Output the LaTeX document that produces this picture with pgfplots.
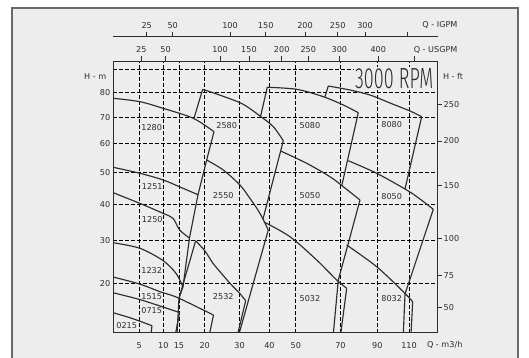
\documentclass[border=0pt]{standalone}
\usepackage{fontspec}
\setmainfont{DejaVu Sans}
\newfontfamily\rpmfont{Fira Sans}[UprightFont={* Light}]
\usepackage{pgfplots}
\pgfplotsset{compat=1.18}
\definecolor{bgc}{RGB}{236,237,236}
\definecolor{framec}{RGB}{105,105,105}
\definecolor{txt}{RGB}{45,45,45}
\newcommand{\lblfont}{\fontsize{8.1}{9.5}\selectfont}
\pgfplotsset{
  qx/.style={
    x coord trafo/.code={\pgfmathparse{ln(##1+37.5)}},
    x coord inv trafo/.code={\pgfmathparse{exp(##1)-37.5}},
    xmin=0.21, xmax=130.87,
    width=324.4pt, scale only axis,
  },
  hy/.style={
    y coord trafo/.code={\pgfmathparse{sqrt(##1)}},
    y coord inv trafo/.code={\pgfmathparse{##1*##1}},
    ymin=11.02, ymax=93.71,
    height=271.7pt,
  },
  curve/.style={txt, line width=1.15pt, mark=none, smooth, tension=0.5},
  edge/.style={txt, line width=1.15pt, mark=none, sharp plot},
}
\begin{document}
\begin{tikzpicture}
\fill[white] (0,0) rectangle (529pt,358pt);
\path[use as bounding box] (0,0) rectangle (529pt,358pt);
\filldraw[fill=bgc, draw=framec, line width=2pt] (12pt,-10pt) rectangle (518pt,350pt);

% main axis
\begin{axis}[qx, hy, at={(113.3pt,25.3pt)}, anchor=south west,
  axis line style={txt, line width=0.9pt},
  xtick={5,10,13.55,20,30,40,50,70,90,110},
  xticklabels={5,10,15,20,30,40,50,70,90,110},
  ytick={20,30,40,50,60,70,80,90},
  yticklabels={20,30,40,50,60,70,80,{}},
  major tick length=0pt,
  grid=major,
  major grid style={black, line width=0.8pt, dash pattern=on 3.5pt off 2.5pt},
  tick label style={font=\lblfont, text=txt},
  xticklabel style={yshift=-6.5pt},
  yticklabel style={xshift=0.5pt},
  clip=true,
]
% family 02 / 07 / 15
\addplot[curve] coordinates {(0.2,14.34) (3.55,13.37) (7.58,12.13)};
\addplot[edge] coordinates {(7.58,12.13) (7.37,10.8)};
\addplot[curve] coordinates {(0.2,18.11) (5.09,16.78) (9.27,15.56) (13.67,14.38)};
\addplot[edge] coordinates {(13.67,14.38) (12.74,10.8)};
\addplot[curve] coordinates {(0.2,21.37) (5.09,19.88) (9.27,18.31) (12.92,17.26) (19.61,14.83) (22.36,13.94)};
\addplot[edge] coordinates {(22.36,13.94) (21.27,10.8)};
% family 12
\addplot[curve] coordinates {(0.2,29.44) (5.15,28.04) (9.92,25.09) (12.85,22.18) (14.51,19.32)};
\addplot[edge] coordinates {(14.51,19.32) (13.55,17.01) (13.09,10.8)};
\addplot[curve] coordinates {(0.2,43.52) (5.09,40.31) (9.92,37.39) (12.16,35.97) (13.72,32.76) (16.09,30.65)};
\addplot[curve] coordinates {(0.2,51.72) (5.15,49.72) (9.99,47.53) (13.79,45.30) (18.23,42.90)};
\addplot[curve] coordinates {(0.2,77.57) (5.15,76.17) (9.92,73.50) (17.04,69.54) (22.50,64.40)};
\addplot[edge] coordinates {(22.50,64.40) (20.51,54.21) (18.23,42.90) (16.09,30.65) (14.51,19.32)};
% family 25
\addplot[edge] coordinates {(17.64,29.95) (13.55,17.01)};
\addplot[curve] coordinates {(17.64,29.95) (20.06,27.37) (22.22,24.44) (24.75,22.03) (27.10,20.03) (30.05,17.99) (31.95,16.55)};
\addplot[edge] coordinates {(31.95,16.55) (29.43,10.8)};
\addplot[edge] coordinates {(17.29,69.93) (19.45,81.32)};
\addplot[curve] coordinates {(19.45,81.32) (30.14,75.76) (36.68,70.44) (41.38,66.30) (45.10,61.06)};
\addplot[edge] coordinates {(45.10,61.06) (37.72,35.77)};
\addplot[curve] coordinates {(20.51,54.21) (25.13,50.81) (30.14,45.93) (33.01,42.20) (35.33,39.21) (37.37,36.34) (39.58,32.76)};
\addplot[edge] coordinates {(39.58,32.76) (29.83,10.8)};
% family 50
\addplot[edge] coordinates {(36.92,70.44) (39.22,82.17)};
\addplot[curve] coordinates {(39.22,82.17) (50.36,81.32) (61.83,78.23) (71.43,74.83) (79.24,71.74)};
\addplot[edge] coordinates {(79.24,71.74) (70.63,45.61)};
\addplot[curve] coordinates {(44.11,57.35) (54.51,53.07) (64.95,48.60) (71.43,45.39) (80.16,41.29)};
\addplot[edge] coordinates {(80.16,41.29) (73.97,29.29) (68.95,20.73) (66.52,10.8)};
\addplot[curve] coordinates {(38.06,34.94) (47.69,30.99) (58.86,25.21) (68.17,20.73) (73.15,19.00)};
\addplot[edge] coordinates {(73.15,19.00) (70.13,10.8)};
% family 80
\addplot[edge] coordinates {(62.62,78.23) (64.15,82.72)};
\addplot[curve] coordinates {(64.15,82.72) (74.85,81.02) (85.71,78.93) (97.62,75.64) (110.68,72.42) (118.89,70.16)};
\addplot[edge] coordinates {(118.89,70.16) (107.30,44.67)};
\addplot[curve] coordinates {(73.97,53.96) (89.58,49.72) (108.44,44.36) (117.67,41.59) (127.49,38.54)};
\addplot[edge] coordinates {(127.49,38.54) (107.30,17.85) (106.17,10.8)};
\addplot[curve] coordinates {(73.15,28.86) (89.58,23.66) (106.17,18.31) (112.53,16.36)};
\addplot[edge] coordinates {(112.53,16.36) (111.36,10.8)};
% model labels
\addplot[draw=none, mark=none, point meta=explicit symbolic, nodes near coords,
  nodes near coords style={anchor=center, font=\lblfont, text=txt, inner sep=0pt}]
  table[meta=lab] {
x y lab
7.52 65.91 1280
26.12 66.68 2580
55.92 66.68 5080
98.68 67.21 8080
7.64 45.39 1251
25.13 42.51 2550
55.92 42.60 5050
98.68 42.29 8050
7.64 35.49 1250
7.52 22.76 1232
7.52 17.32 1515
7.52 14.65 0715
2.61 12.08 0215
25.13 17.32 2532
55.92 17.01 5032
98.68 16.88 8032
};
\end{axis}

% right axis in feet
\begin{axis}[qx, hy, at={(113.3pt,25.3pt)}, anchor=south west,
  hide x axis, axis y line*=right, tick align=outside,
  major tick length=4pt,
  y axis line style={txt, line width=0.9pt},
  tick style={txt, line width=0.8pt},
  ytick={15.24,21.65,30.48,45.72,60.96,75.1},
  yticklabels={50,75,100,150,200,250},
  tick label style={font=\lblfont, text=txt},
  yticklabel style={xshift=-1.5pt},
]
\addplot[draw=none] coordinates {(10,20)};
\end{axis}

% USGPM axis
\begin{axis}[qx, hy, at={(113.3pt,25.3pt)}, anchor=south west,
  hide y axis, axis x line*=top, tick align=outside,
  major tick length=4.5pt,
  x axis line style={txt, line width=0.9pt},
  tick style={txt, line width=0.8pt},
  xtick={5.4,10.5,24.2,33,44.5,55.2,69.5,90.5,113.6},
  xticklabels={25,50,100,150,200,250,300,400,{}},
  tick label style={font=\lblfont, text=txt},
]
\addplot[draw=none] coordinates {(10,20)};
\end{axis}

% IGPM axis
\begin{axis}[qx, at={(113.3pt,321.3pt)}, anchor=north west,
  height=10pt, ymin=0, ymax=1,
  hide y axis, axis x line*=top, tick align=outside,
  major tick length=5pt,
  x axis line style={txt, line width=0.9pt},
  tick style={txt, line width=0.8pt},
  xtick={6.49,12.09,27.09,38.66,53.79,68.66,82.9,109.1},
  xticklabels={25,50,100,150,200,250,300,{}},
  tick label style={font=\lblfont, text=txt},
]
\addplot[draw=none] coordinates {(10,0.5)};
\end{axis}

\node[anchor=east, font=\lblfont, text=txt] at (109.8pt,281.3pt) {H - m};
\node[anchor=west, font=\lblfont, text=txt] at (439.5pt,281.3pt) {H - ft};
\node[anchor=west, font=\lblfont, text=txt] at (423.5pt,13pt) {Q - m3/h};
\node[anchor=east, font=\lblfont, text=txt] at (461pt,308pt) {Q - USGPM};
\node[anchor=east, font=\lblfont, text=txt] at (461pt,332.5pt) {Q - IGPM};
\node[fill=bgc, inner sep=1.5pt, anchor=base, text=txt] at (394.2pt,269.7pt)
  {\resizebox{78pt}{!}{\scalebox{0.62}[1]{\rpmfont\fontsize{29}{29}\selectfont 3000 RPM}}};
\end{tikzpicture}
\end{document}
